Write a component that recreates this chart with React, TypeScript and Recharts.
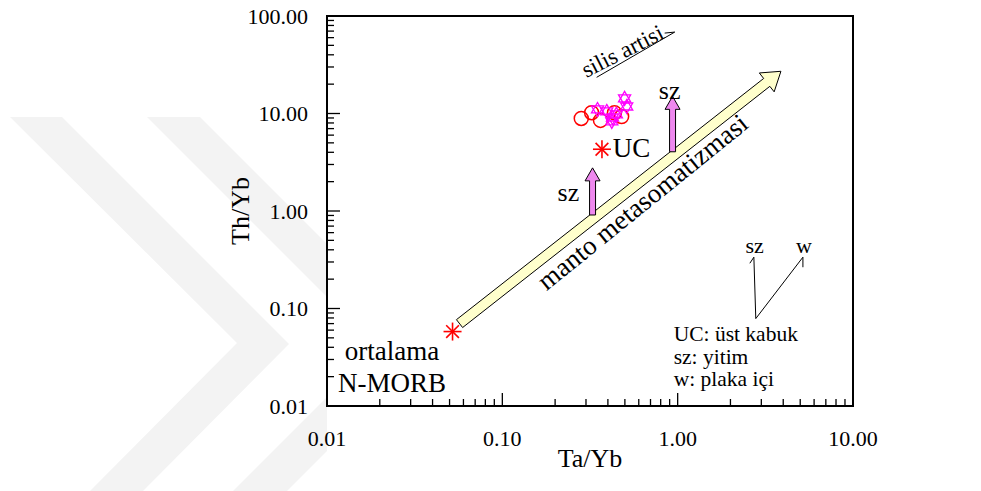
import React from 'react';
import {
  ScatterChart,
  Scatter,
  XAxis,
  YAxis,
  ReferenceLine,
  ReferenceDot,
  ReferenceArea
} from 'recharts';

const FONT = '"Liberation Serif", "Times New Roman", serif';

// axis ticks
const majorTicks = [0.01, 0.1, 1, 10];
const yMajorTicks = [0.01, 0.1, 1, 10, 100];
const minorSteps = [2, 3, 4, 5, 6, 7, 8, 9];

// samples
const nmorb = [{ x: 0.052, y: 0.058 }];
const upperCrust = [{ x: 0.37, y: 4.3 }];
const circleSamples = [
  { x: 0.282, y: 8.9 },
  { x: 0.323, y: 10.2 },
  { x: 0.363, y: 8.5 },
  { x: 0.436, y: 10.2 },
  { x: 0.479, y: 9.3 }
];
const starSamples = [
  { x: 0.349, y: 11.0 },
  { x: 0.394, y: 10.5 },
  { x: 0.425, y: 9.1 },
  { x: 0.447, y: 9.8 },
  { x: 0.498, y: 14.3 },
  { x: 0.512, y: 11.8 },
  { x: 0.421, y: 8.3 }
];

// trend arrows (start -> tip)
const mantleArrow = [{ x: 0.057, y: 0.07 }, { x: 3.88, y: 27.1 }];
const szArrows = [
  [{ x: 0.327, y: 0.91 }, { x: 0.327, y: 2.77 }],
  [{ x: 0.935, y: 4.05 }, { x: 0.935, y: 15.0 }]
];

// thin annotation lines
const annotationLines = [
  [{ x: 0.345, y: 23.5 }, { x: 0.962, y: 68.4 }],
  [{ x: 0.962, y: 68.4 }, { x: 0.843, y: 66.8 }],
  [{ x: 2.79, y: 0.0788 }, { x: 2.72, y: 0.336 }],
  [{ x: 2.72, y: 0.336 }, { x: 2.58, y: 0.291 }],
  [{ x: 2.79, y: 0.0788 }, { x: 5.18, y: 0.336 }],
  [{ x: 5.18, y: 0.336 }, { x: 5.18, y: 0.265 }]
];

// text notes
const notes = [
  { text: 'ortalama', x: 0.0235, y: 0.0369, size: 27, anchor: 'middle', angle: 0 },
  { text: 'N-MORB', x: 0.0235, y: 0.0173, size: 27, anchor: 'middle', angle: 0 },
  { text: 'UC', x: 0.546, y: 4.46, size: 27, anchor: 'middle', angle: 0 },
  { text: 'sz', x: 0.238, y: 1.53, size: 26, anchor: 'middle', angle: 0 },
  { text: 'sz', x: 0.9, y: 17.3, size: 26, anchor: 'middle', angle: 0 },
  { text: 'manto metasomatizmasi', x: 0.631, y: 1.24, size: 27, anchor: 'middle', angle: -39 },
  { text: 'silis artisi', x: 0.485, y: 43.6, size: 23, anchor: 'middle', angle: -27 },
  { text: 'sz', x: 2.75, y: 0.446, size: 22, anchor: 'middle', angle: 0 },
  { text: 'w', x: 5.25, y: 0.446, size: 22, anchor: 'middle', angle: 0 },
  { text: 'UC: üst kabuk', x: 0.949, y: 0.0552, size: 21.5, anchor: 'start', angle: 0 },
  { text: 'sz: yitim', x: 0.949, y: 0.032, size: 21.5, anchor: 'start', angle: 0 },
  { text: 'w: plaka içi', x: 0.949, y: 0.019, size: 21.5, anchor: 'start', angle: 0 }
];

const expand = (majors: number[]) => {
  const out: number[] = [];
  majors.forEach((m, i) => {
    out.push(m);
    if (i < majors.length - 1) minorSteps.forEach((s) => out.push(m * s));
  });
  return out;
};
const xTicks = expand(majorTicks);
const yTicks = expand(yMajorTicks);

const XTick = ({ x, y, payload }: any) => {
  const major = majorTicks.some((m) => Math.abs(m - payload.value) < 1e-9);
  return (
    <g>
      <line x1={x} x2={x} y1={y} y2={y - (major ? 13 : 7)} stroke="#000" strokeWidth={1.3} />
      {major && (
        <text x={x} y={y + 32} textAnchor="middle" dominantBaseline="central" fontSize={22} fontFamily={FONT} fill="#000">
          {payload.value.toFixed(2)}
        </text>
      )}
    </g>
  );
};

const YTick = ({ x, y, payload }: any) => {
  const major = yMajorTicks.some((m) => Math.abs(m - payload.value) < 1e-9);
  return (
    <g>
      <line x1={x} x2={x + (major ? 13 : 7)} y1={y} y2={y} stroke="#000" strokeWidth={1.3} />
      {major && (
        <text x={x - 19} y={y} textAnchor="end" dominantBaseline="central" fontSize={22} fontFamily={FONT} fill="#000">
          {payload.value.toFixed(2)}
        </text>
      )}
    </g>
  );
};

const Asterisk = ({ cx, cy }: any) => {
  const r = 9;
  const d = r * Math.SQRT1_2;
  return (
    <g stroke="#ff0000" strokeWidth={1.6}>
      <line x1={cx - r} y1={cy} x2={cx + r} y2={cy} />
      <line x1={cx} y1={cy - r} x2={cx} y2={cy + r} />
      <line x1={cx - d} y1={cy - d} x2={cx + d} y2={cy + d} />
      <line x1={cx - d} y1={cy + d} x2={cx + d} y2={cy - d} />
    </g>
  );
};

const OpenCircle = ({ cx, cy }: any) => (
  <circle cx={cx} cy={cy} r={7} fill="none" stroke="#ff0000" strokeWidth={1.5} />
);

const Hexagram = ({ cx, cy }: any) => {
  const r = 7;
  const tri = (rot: number) =>
    [0, 1, 2]
      .map((k) => {
        const a = rot + (k * 2 * Math.PI) / 3;
        return `${cx + r * Math.sin(a)},${cy - r * Math.cos(a)}`;
      })
      .join(' ');
  return (
    <g fill="none" stroke="#ff00ff" strokeWidth={1.3}>
      <polygon points={tri(0)} />
      <polygon points={tri(Math.PI)} />
    </g>
  );
};

const arrowShape = (shaft: number, headLen: number, headHalf: number, fill: string) => (props: any) => {
  const { x1, y1, x2, y2 } = props;
  const len = Math.hypot(x2 - x1, y2 - y1);
  const ux = (x2 - x1) / len;
  const uy = (y2 - y1) / len;
  const nx = -uy;
  const ny = ux;
  const bx = x2 - ux * headLen;
  const by = y2 - uy * headLen;
  const pts = [
    [x1 + nx * shaft, y1 + ny * shaft],
    [bx + nx * shaft, by + ny * shaft],
    [bx + nx * headHalf, by + ny * headHalf],
    [x2, y2],
    [bx - nx * headHalf, by - ny * headHalf],
    [bx - nx * shaft, by - ny * shaft],
    [x1 - nx * shaft, y1 - ny * shaft]
  ]
    .map((p) => p.join(','))
    .join(' ');
  return <polygon points={pts} fill={fill} stroke="#000" strokeWidth={1} strokeLinejoin="miter" />;
};

const Note = (n: any) => (props: any) => {
  const { cx, cy } = props;
  return (
    <text
      x={cx}
      y={cy}
      textAnchor={n.anchor}
      dominantBaseline="central"
      fontSize={n.size}
      fontFamily={FONT}
      fill="#000"
      transform={n.angle ? `rotate(${n.angle} ${cx} ${cy})` : undefined}
    >
      {n.text}
    </text>
  );
};

const YTitle = ({ viewBox }: any) => {
  const cx = viewBox.x + viewBox.width - 87;
  const cy = viewBox.y + viewBox.height / 2;
  return (
    <text x={cx} y={cy} textAnchor="middle" dominantBaseline="central" fontSize={26} fontFamily={FONT} transform={`rotate(-90 ${cx} ${cy})`}>
      Th/Yb
    </text>
  );
};

const XTitle = ({ viewBox }: any) => {
  const cx = viewBox.x + viewBox.width / 2;
  return (
    <text x={cx} y={viewBox.y + 52} textAnchor="middle" dominantBaseline="central" fontSize={26} fontFamily={FONT}>
      Ta/Yb
    </text>
  );
};

// faint background watermark (page decoration, not data)
const Watermark = () => (
  <svg width={981} height={491} style={{ position: 'absolute', left: 0, top: 0 }}>
    <g fill="#f3f3f3">
      <polygon points="10,117 62,117 289,344 143,491 90,491 237,343" />
      <polygon points="147,117 200,117 327,244 327,297" />
      <polygon points="233,491 287,491 327,451 327,397" />
    </g>
  </svg>
);

export default function App() {
  return (
    <div style={{ position: 'absolute', left: 0, top: 0, width: 981, height: 491, background: '#fff' }}>
      <Watermark />
      <div style={{ position: 'absolute', left: 0, top: 0 }}>
        <ScatterChart width={981} height={491} margin={{ top: 16, right: 128, bottom: 84, left: 326 }}>
          <XAxis
            type="number"
            dataKey="x"
            scale="log"
            domain={[0.01, 10]}
            ticks={xTicks}
            allowDataOverflow
            height={1}
            tickSize={0}
            tickMargin={0}
            axisLine={false}
            tickLine={false}
            tick={<XTick />}
            interval={0}
            label={<XTitle />}
          />
          <YAxis
            type="number"
            dataKey="y"
            scale="log"
            domain={[0.01, 100]}
            ticks={yTicks}
            allowDataOverflow
            width={1}
            tickSize={0}
            tickMargin={0}
            axisLine={false}
            tickLine={false}
            tick={<YTick />}
            interval={0}
            label={<YTitle />}
          />
          <ReferenceArea x1={0.01} x2={10} y1={0.01} y2={100} fill="none" stroke="#000" strokeWidth={2} ifOverflow="visible" />
          {annotationLines.map((seg, i) => (
            <ReferenceLine key={`a${i}`} segment={seg} stroke="#000" strokeWidth={1} ifOverflow="visible" />
          ))}
          <ReferenceLine segment={mantleArrow} ifOverflow="visible" shape={arrowShape(5, 18, 12, '#ffffcc')} />
          {szArrows.map((seg, i) => (
            <ReferenceLine key={`s${i}`} segment={seg} ifOverflow="visible" shape={arrowShape(3, 13, 7.5, '#ee88ee')} />
          ))}
          {notes.map((n, i) => (
            <ReferenceDot key={`n${i}`} x={n.x} y={n.y} r={0} ifOverflow="visible" shape={Note(n)} />
          ))}
          <Scatter data={circleSamples} shape={<OpenCircle />} isAnimationActive={false} />
          <Scatter data={starSamples} shape={<Hexagram />} isAnimationActive={false} />
          <Scatter data={nmorb} shape={<Asterisk />} isAnimationActive={false} />
          <Scatter data={upperCrust} shape={<Asterisk />} isAnimationActive={false} />
        </ScatterChart>
      </div>
    </div>
  );
}
